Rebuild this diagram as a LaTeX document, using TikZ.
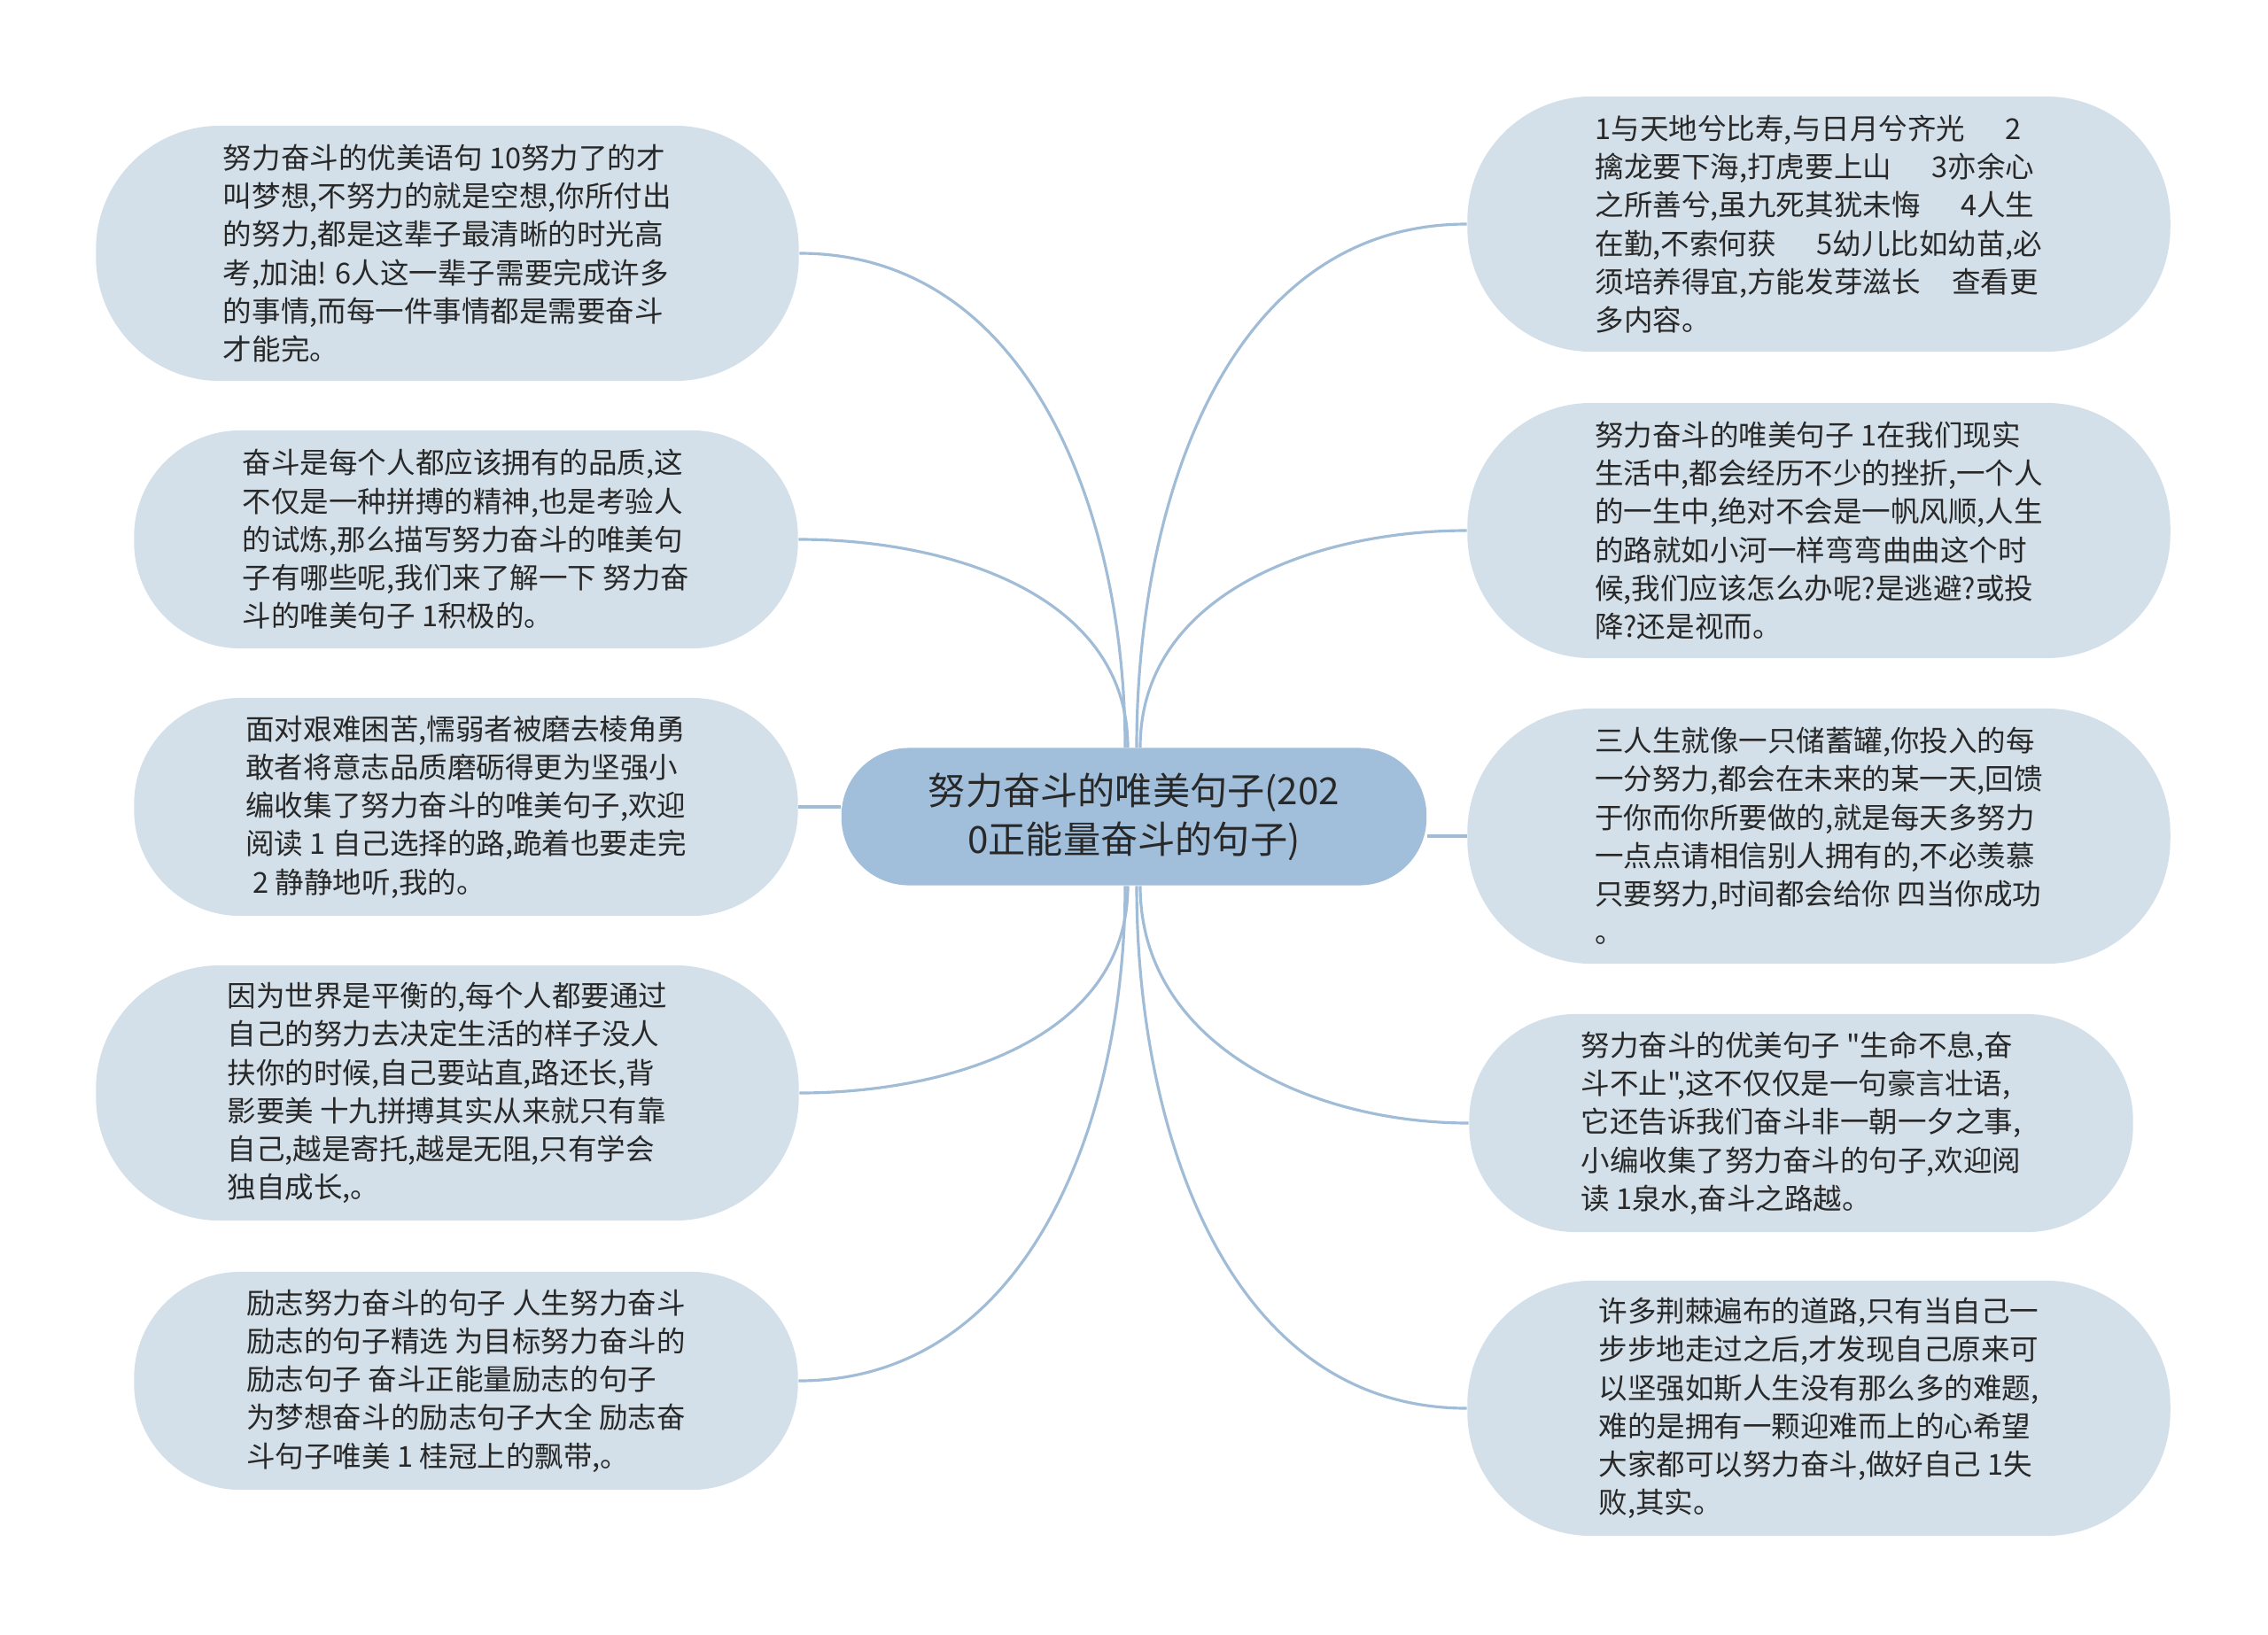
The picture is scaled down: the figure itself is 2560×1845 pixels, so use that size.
\documentclass[tikz,border=0pt]{standalone}
\usepackage{fontspec}
\setmainfont{Noto Sans CJK SC}[Ligatures=TeXOff]
\usepackage{tikz}
\usetikzlibrary{positioning}
\definecolor{leaffill}{RGB}{211,224,233}
\definecolor{rootfill}{RGB}{161,191,218}
\definecolor{linkcol}{RGB}{160,188,214}
\definecolor{textcol}{RGB}{40,40,40}
\tikzset{
  leaf/.style={fill=leaffill, rounded corners=1.4cm, minimum width=7.93cm, minimum height=2.88cm,
    align=left, text=textcol, inner sep=0pt, font=\fontsize{9.25pt}{12.3pt}\selectfont},
  leafs/.style={leaf, rounded corners=1.2cm, minimum width=7.49cm, minimum height=2.46cm},
  root/.style={fill=rootfill, rounded corners=0.76cm, minimum width=6.6cm, minimum height=1.55cm,
    align=center, text=textcol, inner sep=0pt, font=\fontsize{12pt}{15.6pt}\selectfont},
  link/.style={draw=linkcol, line width=0.9pt}
}
\begin{document}
\begin{tikzpicture}[x=0.01cm, y=-0.01cm]
\useasboundingbox (0,0) rectangle (2560,1845);

% 中心
\node[root] (root) at (1280,922) {努力奋斗的唯美句子(202\\0正能量奋斗的句子)};

% 左侧
\node[leaf] (l1) at (505,286) {努力奋斗的优美语句 10努力了的才\\叫梦想,不努力的就是空想,你所付出\\的努力,都是这辈子最清晰的时光高\\考,加油! 6人这一辈子需要完成许多\\的事情,而每一件事情都是需要奋斗\\才能完。};
\node[leafs] (l2) at (526,609) {奋斗是每个人都应该拥有的品质,这\\不仅是一种拼搏的精神,也是考验人\\的试炼,那么描写努力奋斗的唯美句\\子有哪些呢,我们来了解一下 努力奋\\斗的唯美句子 1积极的。};
\node[leafs] (l3) at (526,911) {面对艰难困苦,懦弱者被磨去棱角勇\\敢者将意志品质磨砺得更为坚强小\\编收集了努力奋斗的唯美句子,欢迎\\阅读 1 自己选择的路,跪着也要走完\\\hspace*{0.25em}2 静静地听,我的。};
\node[leaf] (l4) at (505,1234) {因为世界是平衡的,每个人都要通过\\自己的努力去决定生活的样子没人\\扶你的时候,自己要站直,路还长,背\\影要美 十九拼搏其实从来就只有靠\\自己,越是寄托,越是无阻,只有学会\\独自成长,。};
\node[leafs] (l5) at (526,1559) {励志努力奋斗的句子 人生努力奋斗\\励志的句子精选 为目标努力奋斗的\\励志句子 奋斗正能量励志的句子\\为梦想奋斗的励志句子大全 励志奋\\斗句子唯美 1 桂冠上的飘带,。};

% 右侧
\node[leaf] (r1) at (2053,253) {1与天地兮比寿,与日月兮齐光\hspace{1.4em}2\\擒龙要下海,打虎要上山\hspace{1.4em}3亦余心\\之所善兮,虽九死其犹未悔\hspace{1.4em}4人生\\在勤,不索何获\hspace{1.4em}5幼儿比如幼苗,必\\须培养得宜,方能发芽滋长\hspace{1.1em}查看更\\多内容。};
\node[leaf] (r2) at (2053,599) {努力奋斗的唯美句子 1在我们现实\\生活中,都会经历不少的挫折,一个人\\的一生中,绝对不会是一帆风顺,人生\\的路就如小河一样弯弯曲曲这个时\\候,我们应该怎么办呢?是逃避?或投\\降?还是视而。};
\node[leaf] (r3) at (2053,944) {三人生就像一只储蓄罐,你投入的每\\一分努力,都会在未来的某一天,回馈\\于你而你所要做的,就是每天多努力\\一点点请相信别人拥有的,不必羡慕\\只要努力,时间都会给你 四当你成功\\。};
\node[leafs] (r4) at (2033,1268) {努力奋斗的优美句子 "生命不息,奋\\斗不止",这不仅仅是一句豪言壮语,\\它还告诉我们奋斗非一朝一夕之事,\\小编收集了努力奋斗的句子,欢迎阅\\读 1泉水,奋斗之路越。};
\node[leaf] (r5) at (2053,1590) {许多荆棘遍布的道路,只有当自己一\\步步地走过之后,才发现自己原来可\\以坚强如斯人生没有那么多的难题,\\难的是拥有一颗迎难而上的心希望\\大家都可以努力奋斗,做好自己 1失\\败,其实。};

% 连线
\draw[link] ([xshift=-0.1cm]root.north) to[out=90,in=0] (l1.east);
\draw[link] ([xshift=-0.07cm]root.north) to[out=90,in=0] (l2.east);
\draw[link] (l3.east) -- (l3.east -| root.west);
\draw[link] ([xshift=-0.07cm]root.south) to[out=-90,in=0] (l4.east);
\draw[link] ([xshift=-0.1cm]root.south) to[out=-90,in=0] (l5.east);
\draw[link] ([xshift=0.03cm]root.north) to[out=90,in=180] (r1.west);
\draw[link] ([xshift=0.07cm]root.north) to[out=90,in=180] (r2.west);
\draw[link] (r3.west) -- (r3.west -| root.east);
\draw[link] ([xshift=0.07cm]root.south) to[out=-90,in=180] (r4.west);
\draw[link] ([xshift=0.03cm]root.south) to[out=-90,in=180] (r5.west);
\end{tikzpicture}
\end{document}
